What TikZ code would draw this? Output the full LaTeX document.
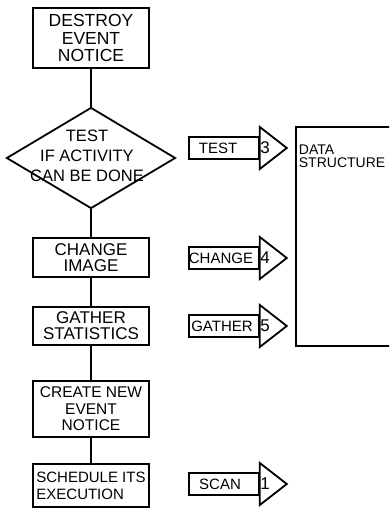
\documentclass[tikz,border=0pt]{standalone}
\usepackage{fontspec}
\setmainfont{Liberation Sans}
\usetikzlibrary{shapes.geometric}

% block arrow: shaft with label, triangular head with a number
\newcommand\flowarrow[5]{%
  \node[shaft] (#1) at (188,#2) {};
  \node[arrowlabel] (#1label) at (#5,#2) {#3};
  \draw[line join=miter] (#1.east) ++(0,-21) -- ++(0,42) -- ++(27,-21) -- cycle;
  \node[arrownum] (#1num) at (265,#2) {#4};
}

\begin{document}
\begin{tikzpicture}[x=1pt,y=-1pt,line width=1.8pt,
  stepbox/.style={draw,rectangle,minimum width=116pt,inner sep=0pt,align=center},
  shaft/.style={draw,rectangle,minimum width=70pt,minimum height=22pt,inner sep=0pt,anchor=west},
  arrowlabel/.style={inner sep=0pt,font=\fontsize{15}{15}\selectfont},
  arrownum/.style={inner sep=0pt,font=\fontsize{17}{17}\selectfont},
  link/.style={line width=1.8pt}]
\useasboundingbox (0,0) rectangle (389,508);
\fill[white] (0,0) rectangle (389,508);
\clip (0,0) rectangle (389,508);

% main flow column
\node[stepbox,minimum height=60pt,font=\fontsize{17.5}{17.5}\selectfont] (destroy) at (91,38) {DESTROY\\EVENT\\NOTICE};
\node[draw,diamond,minimum width=169pt,minimum height=101pt,inner sep=0pt] (test) at (91,158) {};
\node[align=center,inner sep=0pt,font=\fontsize{16.5}{20}\selectfont] (testtext) at (87,156) {TEST\\IF ACTIVITY\\CAN BE DONE};
\node[stepbox,minimum height=39pt,font=\fontsize{17}{16}\selectfont] (change) at (91,257.5) {CHANGE\\IMAGE};
\node[stepbox,minimum height=38pt,font=\fontsize{17}{16}\selectfont] (gather) at (91,326) {GATHER\\STATISTICS};
\node[stepbox,minimum height=56pt,font=\fontsize{15.5}{16.5}\selectfont] (create) at (91,409) {CREATE NEW\\EVENT\\NOTICE};
\node[stepbox,minimum height=43pt,font=\fontsize{15}{17}\selectfont,align=left] (sched) at (91,485.5) {SCHEDULE ITS\\EXECUTION};

\draw[link] (destroy.south) -- (test.north);
\draw[link] (test.south) -- (change.north);
\draw[link] (change.south) -- (gather.north);
\draw[link] (gather.south) -- (create.north);
\draw[link] (create.south) -- (sched.north);

% block arrows into the data structure
\flowarrow{testarr}{148}{TEST}{3}{218}
\flowarrow{changearr}{258}{CHANGE}{4}{221}
\flowarrow{gatherarr}{326}{GATHER}{5}{222}
\flowarrow{scanarr}{484}{SCAN}{1}{220}

% data structure block
\node[draw,rectangle,anchor=north west,minimum width=100pt,minimum height=219pt,inner sep=0pt] (data) at (295,126) {};
\node[anchor=north west,align=left,inner sep=0pt,font=\fontsize{14}{13}\selectfont] (datatext) at (298,144) {DATA\\STRUCTURE};
\end{tikzpicture}
\end{document}
